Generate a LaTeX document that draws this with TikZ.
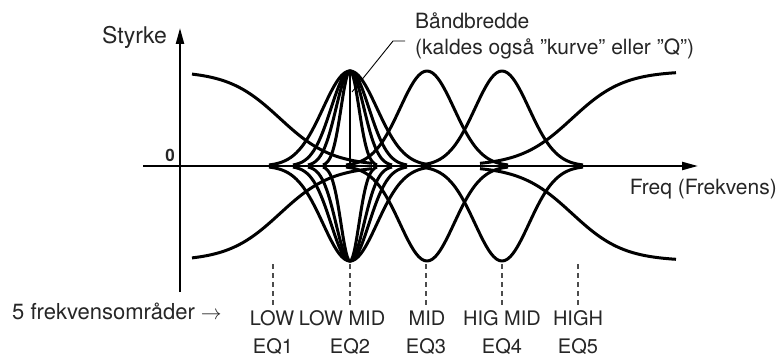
\documentclass[tikz,border=0pt]{standalone}
\usepackage{fontspec}
\setmainfont{TeX Gyre Heros}
\usetikzlibrary{arrows.meta}
\begin{document}
\begin{tikzpicture}[x=1pt,y=-1pt,
  curve/.style={line width=3pt, line join=round},
  axisline/.style={line width=2.2pt},
  guide/.style={draw=black!70, line width=1.2pt, dash pattern=on 5pt off 4pt},
  pointer/.style={line width=0.9pt},
  lbl/.style={font=\fontsize{22}{26}\selectfont, inner sep=0pt, anchor=base, text=black!85},
  mid/.style={font=\fontsize{21}{25}\selectfont},
  small/.style={font=\fontsize{20}{24}\selectfont},
  tip/.style={-{Triangle[length=16pt,width=8pt]}}
]
\fill[white] (0,0) rectangle (779,358);
\useasboundingbox (0,0) rectangle (779,358);

% axes
\coordinate (ybot) at (180,292);
\coordinate (ytop) at (180,28);
\coordinate (xleft) at (143,166);
\coordinate (xright) at (698,166);
\draw[axisline,tip] (ybot) -- (ytop);
\draw[axisline,tip] (xleft) -- (xright);

% centre line of EQ2
\coordinate (c2top) at (350,71);
\coordinate (c2axis) at (350,166);
\draw[line width=1.1pt] (c2top) -- (c2axis);

% bells (boost and cut)
\foreach \c/\s in {350/27,350/19,350/14,350/9,427/27,502/27}{
  \foreach \sg in {-1,1}{
    \draw[curve] plot[domain=-3:3, samples=61, smooth]
      ({\c+\s*\x}, {166+\sg*95*exp(-\x*\x/2)});
  }
}

% shelves
\foreach \sg in {-1,1}{
  \draw[curve] plot[domain=192:372, samples=61, smooth]
    (\x, {166+\sg*95/(1+exp((\x-280)/26))});
  \draw[curve] plot[domain=480:676, samples=61, smooth]
    (\x, {166+\sg*95/(1+exp(-(\x-572)/26))});
}

% bandwidth pointer
\coordinate (p1) at (405,41);
\coordinate (p2) at (393,41);
\coordinate (p3) at (352,92);
\draw[pointer] (p1) -- (p2) -- (p3);

% texts
\node[lbl, anchor=base west, font=\fontsize{23}{27}\selectfont] (styrke) at (102,44) {Styrke};
\node[lbl, font=\fontsize{17}{20}\selectfont\bfseries] (zero) at (170,162) {0};
\node[lbl, mid, anchor=base west] (bw) at (415,28.5) {Båndbredde};
\node[lbl, mid, anchor=base west] (bw2) at (415,54.5) {(kaldes også ”kurve” eller ”Q”)};
\node[lbl, mid, anchor=base east] (freq) at (777,195) {Freq (Frekvens)};
\node[lbl, anchor=base west] (five) at (12,319) {5 frekvensområder $\rightarrow$};

\node[lbl, small] (n1) at (272,325) {LOW};
\node[lbl, small] (n2) at (342,325) {LOW MID};
\node[lbl, small] (n3) at (427,325) {MID};
\node[lbl, small] (n4) at (502,325) {HIG MID};
\node[lbl, small] (n5) at (578,325) {HIGH};
\node[lbl, small] (e1) at (273,353) {EQ1};
\node[lbl, small] (e2) at (350,353) {EQ2};
\node[lbl, small] (e3) at (426,353) {EQ3};
\node[lbl, small] (e4) at (502,353) {EQ4};
\node[lbl, small] (e5) at (578,353) {EQ5};

% guide lines
\foreach \i/\gx in {1/273,2/350,3/426,4/502,5/578}{
  \coordinate (g\i a) at (\gx,264);
  \coordinate (g\i b) at (\gx,308);
  \draw[guide] (g\i a) -- (g\i b);
}
\end{tikzpicture}
\end{document}
